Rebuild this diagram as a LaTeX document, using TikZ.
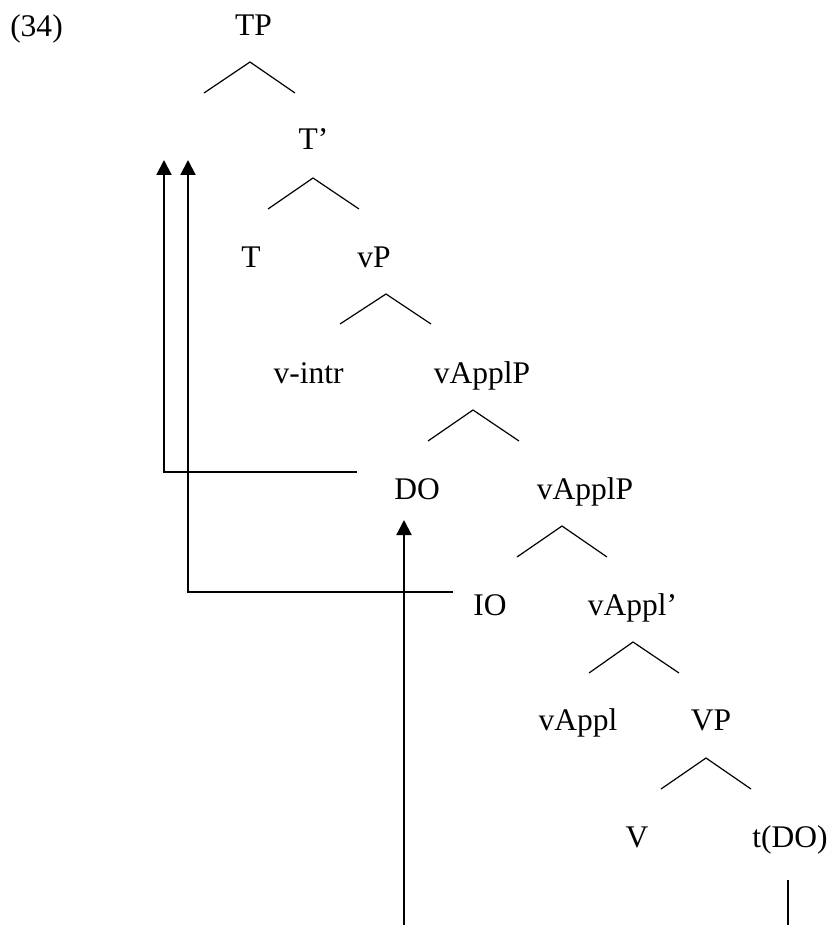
\documentclass[tikz,border=0pt]{standalone}
\usepackage{fontspec}
\setmainfont{Liberation Serif}
\usetikzlibrary{arrows.meta}
\begin{document}
\begin{tikzpicture}[x=1pt,y=-1pt,
  lab/.style={anchor=base,inner sep=0pt,font=\fontsize{31.5}{31.5}\selectfont},
  branch/.style={line width=1.2pt},
  move/.style={line width=2pt,-{Triangle[length=15pt,width=15pt]}},
  trace/.style={line width=2pt}]
\useasboundingbox (0,0) rectangle (832,925);
% labels
\node[lab] (ex) at (36.5,37) {(34)};
\node[lab] (TP) at (253.5,36) {TP};
\node[lab] (Tbar) at (313.5,150) {T’};
\node[lab] (T) at (251,267) {T};
\node[lab] (vP) at (374,267) {vP};
\node[lab] (vintr) at (308.5,383) {v-intr};
\node[lab] (vApplP) at (482,383) {vApplP};
\node[lab] (DO) at (417,499) {DO};
\node[lab] (vApplPb) at (585,499) {vApplP};
\node[lab] (IO) at (490,615) {IO};
\node[lab] (vApplbar) at (632.5,615) {vAppl’};
\node[lab] (vAppl) at (578,730) {vAppl};
\node[lab] (VP) at (711,730) {VP};
\node[lab] (V) at (637,847) {V};
\node[lab] (tDO) at (790,847) {t(DO)};
% branches
\draw[branch] (204,93) -- (250,62) -- (295,93);
\draw[branch] (268,209) -- (313,178) -- (359,209);
\draw[branch] (340,324) -- (386,294) -- (431,324);
\draw[branch] (428,441) -- (473,410) -- (519,441);
\draw[branch] (517,557) -- (562,526) -- (607,557);
\draw[branch] (589,673) -- (633,642) -- (679,673);
\draw[branch] (661,789) -- (706,758) -- (751,789);
% movement
\coordinate (doStart) at (357,472);
\coordinate (doCorner) at (164,472);
\coordinate (doTop) at (164,160);
\coordinate (ioStart) at (453,592);
\coordinate (ioCorner) at (188,592);
\coordinate (ioTop) at (188,160);
\coordinate (trBottom) at (404,925);
\coordinate (doTip) at (404,520);
\coordinate (tBottom) at (788,925);
\coordinate (tTop) at (788,880);
\draw[move] (doStart) -- (doCorner) -- (doTop);
\draw[move] (ioStart) -- (ioCorner) -- (ioTop);
\draw[move] (trBottom) -- (doTip);
\draw[trace] (tTop) -- (tBottom);
\end{tikzpicture}
\end{document}
